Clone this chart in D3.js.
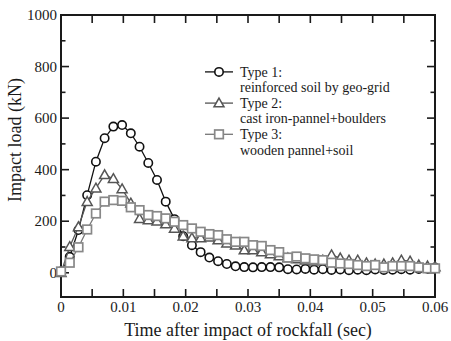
<!DOCTYPE html>
<html>
<head>
<meta charset="utf-8">
<script src="https://cdn.jsdelivr.net/npm/d3@7/dist/d3.min.js"></script>
<style>
  html, body { margin: 0; padding: 0; background: #fff; }
  svg { display: block; }
</style>
</head>
<body>
<svg id="chart" width="451" height="341" font-family="'Liberation Serif', 'DejaVu Serif', serif"></svg>
<script>
// ---- data ----
const time = [0, 0.0014, 0.0028, 0.0042, 0.0056, 0.0070, 0.0084, 0.0098, 0.0112, 0.0126,
  0.0140, 0.0154, 0.0168, 0.0182, 0.0196, 0.0210, 0.0224, 0.0238, 0.0252, 0.0266,
  0.0280, 0.0294, 0.0308, 0.0322, 0.0336, 0.0350, 0.0364, 0.0378, 0.0392, 0.0406,
  0.0420, 0.0434, 0.0448, 0.0462, 0.0476, 0.0490, 0.0504, 0.0518, 0.0532, 0.0546,
  0.0560, 0.0574, 0.0588, 0.0600];
const type1 = [5, 62, 166, 301, 431, 522, 567, 573, 541, 489,
  426, 360, 276, 208, 142, 107, 80, 59, 45, 34,
  25, 22, 21, 22, 22, 21, 14, 13, 15, 12,
  14, 11, 13, 10, 12, 10, 13, 11, 12, 14,
  12, 15, 16, 20];
const type2 = [0, 101, 178, 276, 328, 380, 365, 325, 270, 210,
  205, 200, 189, 172, 142, 135, 135, 138, 127, 115,
  107, 88, 88, 81, 73, 65, 57, 53, 49, 45,
  49, 69, 57, 49, 49, 38, 34, 34, 38, 49,
  45, 30, 26, 22];
const type3 = [5, 39, 99, 168, 230, 276, 282, 279, 254, 243,
  224, 220, 211, 198, 185, 172, 159, 150, 146, 130,
  120, 120, 107, 104, 88, 80, 59, 63, 56, 52,
  49, 39, 36, 34, 30, 26, 30, 21, 26, 26,
  26, 21, 17, 17];
const seriesNames = ["Type 1:", "Type 2:", "Type 3:"];
const seriesDesc = ["reinforced soil by geo-grid", "cast iron-pannel+boulders", "wooden pannel+soil"];
const xTicks = [0, 0.01, 0.02, 0.03, 0.04, 0.05, 0.06];
const xTickLabels = ["0", "0.01", "0.02", "0.03", "0.04", "0.05", "0.06"];
const yTicks = [0, 200, 400, 600, 800, 1000];
const xLabel = "Time after impact of rockfall (sec)";
const yLabel = "Impact load (kN)";

// ---- chart ----
const svg = d3.select("#chart");
const L = 61, R = 435, T = 15, B = 297;
const x = d3.scaleLinear().domain([0, 0.06]).range([L, R]);
const y = d3.scaleLinear().domain([-94, 1000]).range([B, T]);
const ink = "#1a1a1a";

const minorX = d3.range(0, 0.0601, 0.005);
const minorY = d3.range(100, 1000, 200);

// frame
svg.append("rect").attr("x", L).attr("y", T).attr("width", R - L).attr("height", B - T)
  .attr("fill", "none").attr("stroke", ink).attr("stroke-width", 2);

const tickG = svg.append("g").attr("stroke", ink).attr("stroke-width", 1.6);
minorX.forEach(v => {
  const px = x(v);
  tickG.append("line").attr("x1", px).attr("x2", px).attr("y1", B).attr("y2", B - 8);
  tickG.append("line").attr("x1", px).attr("x2", px).attr("y1", T).attr("y2", T + 8);
});
yTicks.forEach(v => {
  const py = y(v);
  tickG.append("line").attr("x1", L).attr("x2", L + 8).attr("y1", py).attr("y2", py);
  tickG.append("line").attr("x1", R).attr("x2", R - 8).attr("y1", py).attr("y2", py);
});
minorY.forEach(v => {
  const py = y(v);
  tickG.append("line").attr("x1", L).attr("x2", L + 4.5).attr("y1", py).attr("y2", py);
  tickG.append("line").attr("x1", R).attr("x2", R - 4.5).attr("y1", py).attr("y2", py);
});

// tick labels
svg.append("g").selectAll("text").data(xTicks).join("text")
  .attr("x", d => x(d)).attr("y", 312).attr("text-anchor", "middle").attr("fill", ink)
  .attr("font-size", 15).text((d, i) => xTickLabels[i]);
svg.append("g").selectAll("text").data(yTicks).join("text")
  .attr("x", L - 4).attr("y", d => y(d) + 5).attr("text-anchor", "end").attr("fill", ink)
  .attr("font-size", 15).text(d => d);

// axis titles
svg.append("text").attr("x", 248).attr("y", 336).attr("text-anchor", "middle")
  .attr("fill", ink).attr("font-size", 18).text(xLabel);
svg.append("text").attr("transform", "translate(21,140) rotate(-90)")
  .attr("text-anchor", "middle").attr("fill", ink).attr("font-size", 18).text(yLabel);

// series
const styles = [
  { data: type1, color: "#111", line: "#111", shape: "circle" },
  { data: type2, color: "#555", line: "#555", shape: "triangle" },
  { data: type3, color: "#888", line: "#777", shape: "square" }
];
function drawMarker(g, shape, cx, cy, color) {
  if (shape === "circle") {
    g.append("circle").attr("cx", cx).attr("cy", cy).attr("r", 4.2)
      .attr("fill", "#fff").attr("stroke", color).attr("stroke-width", 1.6);
  } else if (shape === "triangle") {
    const s = 5;
    g.append("path").attr("d", `M${cx},${cy - s} L${cx + s},${cy + s * 0.75} L${cx - s},${cy + s * 0.75} Z`)
      .attr("fill", "#fff").attr("stroke", color).attr("stroke-width", 1.5);
  } else {
    g.append("rect").attr("x", cx - 4.3).attr("y", cy - 4.3).attr("width", 8.6).attr("height", 8.6)
      .attr("fill", "#fff").attr("stroke", color).attr("stroke-width", 1.7);
  }
}
const line = d3.line().x((d, i) => x(time[i])).y(d => y(d));
styles.forEach(s => {
  const g = svg.append("g");
  g.append("path").attr("d", line(s.data)).attr("fill", "none")
    .attr("stroke", s.line).attr("stroke-width", 1.3);
  s.data.forEach((v, i) => drawMarker(g, s.shape, x(time[i]), y(v), s.color));
});

// legend (two-line labels, line pitch 15.6)
const pitch = 15.6, firstBase = 76.5;
styles.forEach((s, i) => {
  const g = svg.append("g");
  const base = firstBase + i * 2 * pitch;
  const ly = base - 4.6;
  g.append("line").attr("x1", 205).attr("x2", 233).attr("y1", ly).attr("y2", ly)
    .attr("stroke", s.line).attr("stroke-width", 1.3);
  drawMarker(g, s.shape, 219, ly, s.color);
  g.append("text").attr("x", 240).attr("y", base).attr("font-size", 14).attr("fill", ink).text(seriesNames[i]);
  g.append("text").attr("x", 240).attr("y", base + pitch).attr("font-size", 14).attr("fill", ink).text(seriesDesc[i]);
});
</script>
</body>
</html>
